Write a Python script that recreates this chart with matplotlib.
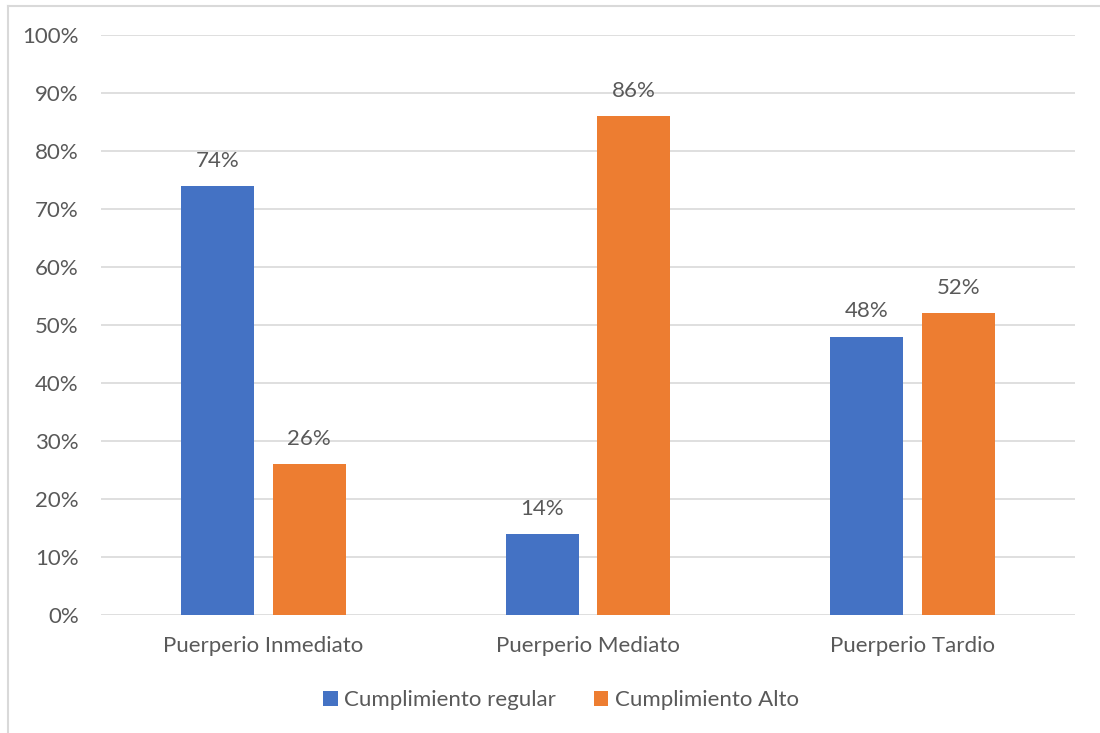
import numpy as np
import matplotlib
matplotlib.use("Agg")
import matplotlib.pyplot as plt
from matplotlib.lines import Line2D

categories = ["Puerperio Inmediato", "Puerperio Mediato", "Puerperio Tardio"]
regular = [74, 14, 48]
alto = [26, 86, 52]
series_names = ["Cumplimiento regular", "Cumplimiento Alto"]

plt.rcParams['font.family'] = ['Lato', 'DejaVu Sans']
text_color = '#595959'
fs = 16

fig = plt.figure(figsize=(11, 7.33), dpi=100)
ax = fig.add_axes([101 / 1100, 1 - 615 / 733, 974 / 1100, 580 / 733])

x = np.arange(len(categories))
width = 0.225
offset = width / 2 + 0.029
b1 = ax.bar(x - offset, regular, width, color='#4472C4', label=series_names[0], zorder=3)
b2 = ax.bar(x + offset, alto, width, color='#ED7D31', label=series_names[1], zorder=3)

# value labels above each bar
for bars in (b1, b2):
    for bar in bars:
        h = bar.get_height()
        ax.annotate(f"{h:.0f}%", (bar.get_x() + bar.get_width() / 2, h),
                    xytext=(0, 11), textcoords='offset points',
                    ha='center', va='bottom', fontsize=fs, color=text_color)

ax.set_xlim(-0.5, 2.5)
ax.set_ylim(0, 100)
ax.set_yticks(np.arange(0, 101, 10))
ax.set_yticklabels([f"{v}%" for v in range(0, 101, 10)])
ax.set_xticks(x)
ax.set_xticklabels(categories)
ax.tick_params(axis='both', length=0, labelsize=fs, colors=text_color)
ax.tick_params(axis='y', pad=16)
ax.tick_params(axis='x', pad=15)
ax.grid(axis='y', color='#D9D9D9', linewidth=1.2, zorder=0)
for s in ax.spines.values():
    s.set_visible(False)

ax.legend(loc='center', bbox_to_anchor=(0.51, 1 - 700 / 733), bbox_transform=fig.transFigure,
          ncol=2, frameon=False, fontsize=fs, labelcolor=text_color,
          handlelength=0.65, handleheight=0.65, handletextpad=0.3, columnspacing=1.7)

# chart area border (only top and left visible in the crop)
fig.add_artist(Line2D([8 / 1100, 8 / 1100], [0, 1 - 6 / 733], transform=fig.transFigure,
                      color='#D9D9D9', linewidth=1.5))
fig.add_artist(Line2D([8 / 1100, 1], [1 - 6 / 733, 1 - 6 / 733], transform=fig.transFigure,
                      color='#D9D9D9', linewidth=1.5))

fig.savefig("out.png", dpi=100)
